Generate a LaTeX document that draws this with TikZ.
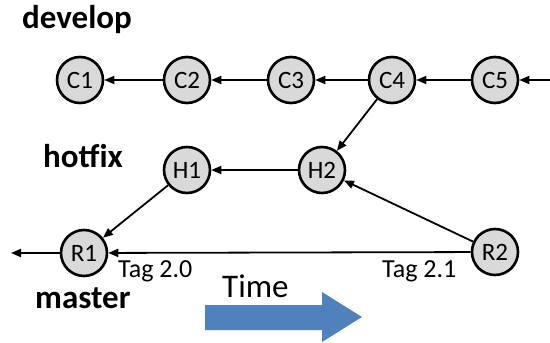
\documentclass[tikz,border=0pt]{standalone}
\usepackage{fontspec}
\setmainfont{Carlito}
\usetikzlibrary{arrows.meta}
\definecolor{commitfill}{HTML}{D9D9D9}
\definecolor{timeblue}{HTML}{4F81BD}
\tikzset{
  commit/.style={circle, draw=black, line width=2.6pt, fill=commitfill,
    minimum size=46pt, inner sep=0pt, font=\fontsize{25}{25}\selectfont},
  branchlabel/.style={anchor=base west, inner sep=0pt,
    font=\fontsize{33}{33}\selectfont\bfseries},
  taglabel/.style={anchor=base west, inner sep=0pt,
    font=\fontsize{26}{26}\selectfont},
  parent/.style={line width=1.8pt, -{Triangle[length=10pt,width=8pt]}},
}
\begin{document}
\begin{tikzpicture}[x=1pt, y=-1pt]
\useasboundingbox (0,0) rectangle (550,343);

% develop branch
\node[commit] (c1) at (80,80) {C1};
\node[commit] (c2) at (187,80) {C2};
\node[commit] (c3) at (291,80) {C3};
\node[commit] (c4) at (392,80) {C4};
\node[commit] (c5) at (495,80) {C5};
\coordinate (devin) at (550,80);

% hotfix branch
\node[commit] (h1) at (187,170) {H1};
\node[commit] (h2) at (322,170) {H2};

% master branch
\node[commit] (r1) at (84,253) {R1};
\node[commit] (r2) at (495,252) {R2};
\coordinate (mastout) at (11,253);

% branch names
\node[branchlabel] (ldev) at (22,28) {develop};
\node[branchlabel] (lhot) at (43,167) {hotfix};
\node[branchlabel] (lmas) at (35,308) {master};

% tags
\node[taglabel] (t20) at (118,277) {Tag 2.0};
\node[taglabel] (t21) at (382,277) {Tag 2.1};

% parent links
\draw[parent] (devin) -- (c5);
\draw[parent] (c5) -- (c4);
\draw[parent] (c4) -- (c3);
\draw[parent] (c3) -- (c2);
\draw[parent] (c2) -- (c1);
\draw[parent] (c4) -- (h2);
\draw[parent] (h2) -- (h1);
\draw[parent] (h1) -- (r1);
\draw[parent] (r2) -- (h2);
\draw[parent] (r2) -- (r1);
\draw[parent] (r1) -- (mastout);

% time arrow
\node[anchor=base west, inner sep=0pt, font=\fontsize{33}{33}\selectfont] (ltime) at (222,297) {Time};
\fill[timeblue] (205,305) -- (322,305) -- (322,292) -- (362,317) -- (322,342)
  -- (322,330) -- (205,330) -- cycle;
\end{tikzpicture}
\end{document}
